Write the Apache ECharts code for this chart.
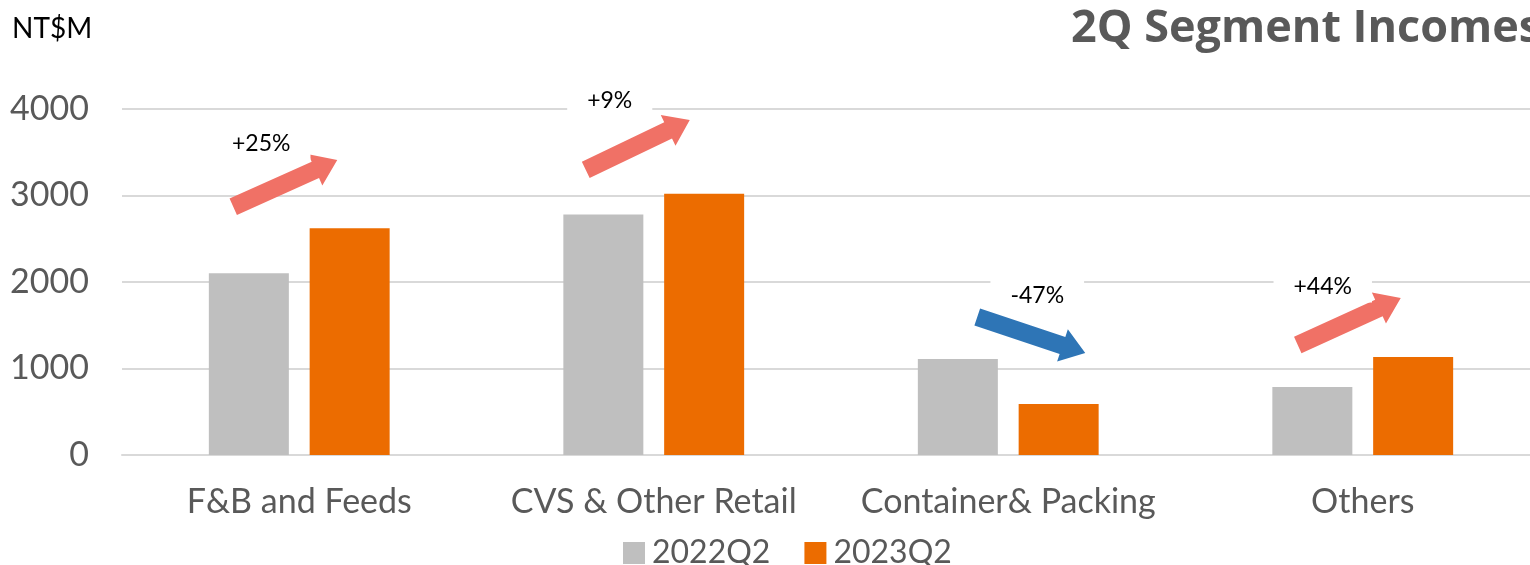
<!DOCTYPE html>
<html>
<head>
<meta charset="utf-8">
<title>2Q Segment Incomes</title>
<script src="https://cdn.jsdelivr.net/npm/echarts@6/dist/echarts.min.js"></script>
<style>
  html, body { margin: 0; padding: 0; background: #fff; }
  #chart { width: 1530px; height: 565px; }
</style>
</head>
<body>
<div id="chart"></div>
<script>
// data (NT$M)
const categories = ['F&B and Feeds', 'CVS & Other Retail', 'Container& Packing', 'Others'];
const seriesNames = ['2022Q2', '2023Q2'];
const income2022 = [2100, 2780, 1110, 786];
const income2023 = [2620, 3020, 590, 1133];
const yTicks = [0, 1000, 2000, 3000, 4000];
const changeLabels = ['+25%', '+9%', '-47%', '+44%'];

const FONT = 'Lato, "Liberation Sans", sans-serif';

const chart = echarts.init(document.getElementById('chart'));

chart.setOption({
  animation: false,
  textStyle: { fontFamily: FONT },
  title: {
    text: '2Q Segment Incomes',
    left: 1066,
    top: 2,
    textStyle: { fontSize: 45, fontWeight: 'bold', color: '#595959', fontFamily: '"Open Sans", sans-serif' }
  },
  grid: {
    left: 122,
    right: -10,
    top: 109,
    bottom: 110,
    outerBoundsMode: 'none'
  },
  legend: {
    data: seriesNames,
    left: 618,
    top: 532,
    itemWidth: 22,
    itemHeight: 22,
    itemGap: 34,
    icon: 'rect',
    textStyle: { fontSize: 32, color: '#595959', fontFamily: FONT, padding: [0, 0, 0, 2] }
  },
  xAxis: {
    type: 'category',
    data: categories,
    axisLine: { lineStyle: { color: '#d9d9d9', width: 2 } },
    axisTick: { show: false },
    axisLabel: { interval: 0, fontSize: 34, color: '#595959', margin: 30, fontFamily: FONT }
  },
  yAxis: {
    type: 'value',
    min: yTicks[0],
    max: yTicks[yTicks.length - 1],
    interval: 1000,
    name: 'NT$M',
    nameLocation: 'end',
    nameGap: 0,
    nameTextStyle: { fontSize: 28, color: '#000', fontFamily: FONT, align: 'left', padding: [0, 0, 66, -110] },
    axisLine: { show: false },
    axisTick: { show: false },
    splitLine: { lineStyle: { color: '#d9d9d9', width: 2 } },
    axisLabel: {
      fontSize: 34,
      color: '#595959',
      margin: 33,
      fontFamily: FONT,
      formatter: function (v) { return String(v); }
    }
  },
  series: [
    {
      name: seriesNames[0],
      type: 'bar',
      data: income2022,
      barWidth: 80,
      barGap: '26%',
      itemStyle: { color: '#bfbfbf' }
    },
    {
      name: seriesNames[1],
      type: 'bar',
      data: income2023,
      barWidth: 80,
      itemStyle: { color: '#ec6c00' }
    }
  ]
});

// change arrows: offsets from category centre (px) and heights in axis units
const arrowTail = [[-66, 2870], [-68, 3295], [-31, 1595], [-65, 1272]];
const arrowTip = [[38, 3410], [36, 3873], [77, 1179], [38, 1815]];
const labelAt = [[-38, 3595], [-44, 4092], [29, 1838], [-40, 1942]];

function arrowPoints(a, b) {
  const dx = b[0] - a[0], dy = b[1] - a[1];
  const len = Math.sqrt(dx * dx + dy * dy);
  const ux = dx / len, uy = dy / len;
  const nx = -uy, ny = ux;
  const shaft = 9, head = 17, headLen = 24;
  const bx = b[0] - ux * headLen, by = b[1] - uy * headLen;
  return [
    [a[0] + nx * shaft, a[1] + ny * shaft],
    [bx + nx * shaft, by + ny * shaft],
    [bx + nx * head, by + ny * head],
    [b[0], b[1]],
    [bx - nx * head, by - ny * head],
    [bx - nx * shaft, by - ny * shaft],
    [a[0] - nx * shaft, a[1] - ny * shaft]
  ];
}

function drawArrows() {
  const graphics = [];
  categories.forEach(function (cat, i) {
    const up = income2023[i] >= income2022[i];
    const t = chart.convertToPixel({ gridIndex: 0 }, [i, arrowTail[i][1]]);
    const p = chart.convertToPixel({ gridIndex: 0 }, [i, arrowTip[i][1]]);
    const l = chart.convertToPixel({ gridIndex: 0 }, [i, labelAt[i][1]]);
    graphics.push({
      type: 'polygon',
      shape: { points: arrowPoints([t[0] + arrowTail[i][0], t[1]], [p[0] + arrowTip[i][0], p[1]]) },
      style: { fill: up ? '#f07166' : '#2e75b6' },
      z: 10
    });
    graphics.push({
      type: 'text',
      x: l[0] + labelAt[i][0],
      y: l[1],
      style: {
        text: changeLabels[i],
        fontSize: 23,
        fontFamily: FONT,
        fill: '#000',
        align: 'center',
        verticalAlign: 'middle',
        backgroundColor: '#fff',
        padding: [4, 20]
      },
      z: 10
    });
  });
  chart.setOption({ graphic: graphics });
}

drawArrows();

window.addEventListener('resize', function () {
  chart.resize();
  drawArrows();
});
</script>
</body>
</html>
